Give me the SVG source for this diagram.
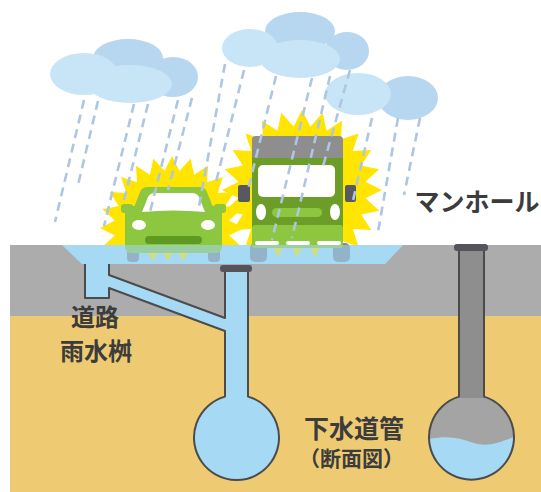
<svg xmlns="http://www.w3.org/2000/svg" width="541" height="492" viewBox="0 0 541 492">
  <defs>
    <style>
      .line { stroke: #4b4b4b; stroke-width: 2; stroke-linejoin: round; }
      .rain { fill: none; stroke: #aec6e2; stroke-width: 2.6; stroke-dasharray: 9 6; }
      .cloud-back { fill: #b6d7ef; }
      .cloud-front { fill: #c8e5f7; }
      .water { fill: #a6d9f3; }
      .green { fill: #8dc63f; }
      .cab { fill: #6c9d28; }
      .white { fill: #ffffff; }
      .wheel { fill: #7d8796; }
      .flash { fill: #ffe500; }
      .label { font-family: "Noto Sans CJK JP", "Noto Sans", sans-serif; font-weight: 700; fill: #3c3c3c; }
    </style>
    <!-- 24-point burst, radius 80 -->
    <polygon id="burst" points="80,0 63.45,8.35 77.27,20.71 59.13,24.49 69.28,40 50.78,38.96 56.57,56.57 38.96,50.78 40,69.28 24.49,59.13 20.71,77.27 8.35,63.45 0,80 -8.35,63.45 -20.71,77.27 -24.49,59.13 -40,69.28 -38.96,50.78 -56.57,56.57 -50.78,38.96 -69.28,40 -59.13,24.49 -77.27,20.71 -63.45,8.35 -80,0 -63.45,-8.35 -77.27,-20.71 -59.13,-24.49 -69.28,-40 -50.78,-38.96 -56.57,-56.57 -38.96,-50.78 -40,-69.28 -24.49,-59.13 -20.71,-77.27 -8.35,-63.45 0,-80 8.35,-63.45 20.71,-77.27 24.49,-59.13 40,-69.28 38.96,-50.78 56.57,-56.57 50.78,-38.96 69.28,-40 59.13,-24.49 77.27,-20.71 63.45,-8.35"/>
    <clipPath id="above-road">
      <rect x="0" y="0" width="541" height="245"/>
    </clipPath>
    <clipPath id="sewer-clip">
      <circle cx="471.5" cy="437.5" r="42.5"/>
    </clipPath>
  </defs>

  <!-- ground layers -->
  <g id="ground">
    <rect x="10" y="245" width="531" height="71" fill="#acacac"/>
    <rect x="10" y="316" width="531" height="176" fill="#eecb72"/>
  </g>

  <!-- storm drain: inlet, lateral and main pipe -->
  <g id="storm-drain">
    <path class="line" fill="#a6d9f3" d="M109 256 L109 275 L225 318 L225 270 L248 270 L248 396.6 A42.5 42.5 0 1 1 225 396.6 L225 331 L109 288 L109 298 L85 298 L85 256 Z"/>
    <rect x="220" y="265" width="32" height="7" rx="3" fill="#54545a"/>
  </g>

  <!-- manhole and sewer pipe -->
  <g id="manhole">
    <circle cx="471.5" cy="437.5" r="42.5" fill="#a4a4a4"/>
    <path class="water" clip-path="url(#sewer-clip)" d="M425 440 C445 435 458 437 474 443 C490 448 502 441 520 435 L520 485 L425 485 Z"/>
    <rect x="459" y="249" width="25" height="149" fill="#8e8e8e"/>
    <path class="line" fill="none" d="M459 249 L459 396.6 A42.5 42.5 0 1 0 484 396.6 L484 249"/>
    <rect x="454" y="244" width="34" height="7" rx="3" fill="#54545a"/>
  </g>

  <!-- standing water on the road -->
  <polygon class="water" points="62,245 403,245 385,264 82,264"/>

  <!-- clouds -->
  <g id="cloud-left">
    <ellipse class="cloud-back" cx="128" cy="58" rx="35" ry="19"/>
    <ellipse class="cloud-back" cx="173" cy="77" rx="25" ry="20"/>
    <ellipse class="cloud-front" cx="84" cy="74" rx="34" ry="21"/>
    <ellipse class="cloud-front" cx="130" cy="84" rx="42" ry="19"/>
  </g>
  <g id="cloud-middle">
    <ellipse class="cloud-back" cx="300" cy="31" rx="35" ry="19"/>
    <ellipse class="cloud-back" cx="347" cy="51" rx="22" ry="19"/>
    <ellipse class="cloud-front" cx="250" cy="48" rx="28" ry="19"/>
    <ellipse class="cloud-front" cx="300" cy="59" rx="40" ry="19"/>
  </g>
  <g id="cloud-right">
    <ellipse class="cloud-back" cx="408" cy="98" rx="30" ry="22"/>
    <ellipse class="cloud-front" cx="358" cy="94" rx="33" ry="21"/>
  </g>

  <!-- flashes behind the vehicles -->
  <g id="flashes" clip-path="url(#above-road)">
    <use href="#burst" class="flash" transform="translate(302 190)"/>
    <use href="#burst" class="flash" transform="translate(172 228) scale(0.9)"/>
  </g>
  <g id="flash-under" class="flash">
    <polygon points="148,253 158,253 153,261"/>
    <polygon points="163,253 173,253 168,261"/>
    <polygon points="178,253 188,253 183,261"/>
    <polygon points="273,247 283,247 278,258"/>
    <polygon points="292,247 302,247 297,258"/>
    <polygon points="310,247 320,247 315,258"/>
  </g>

  <!-- car -->
  <g id="car">
    <rect class="wheel" x="127" y="245" width="12" height="17" rx="4"/>
    <rect class="wheel" x="208" y="245" width="12" height="17" rx="4"/>
    <rect class="green" x="121" y="204" width="12" height="9" rx="3"/>
    <rect class="green" x="214" y="204" width="12" height="9" rx="3"/>
    <path class="green" d="M133 210 L140 192 Q142 187 148 187 L199 187 Q205 187 207 192 L214 210 Z"/>
    <rect class="green" x="125" y="206" width="97" height="47" rx="6"/>
    <path class="white" d="M142 212 L148 197 Q150 193 155 193 L192 193 Q197 193 199 197 L205 212 Q173 209 142 212 Z"/>
    <ellipse class="white" cx="139" cy="225" rx="7" ry="5"/>
    <ellipse class="white" cx="208" cy="225" rx="7" ry="5"/>
    <rect x="145" y="236" width="57" height="8" rx="4" fill="#5e9a22"/>
  </g>

  <!-- truck -->
  <g id="truck">
    <rect class="wheel" x="250" y="243" width="17" height="19" rx="5"/>
    <rect class="wheel" x="333" y="243" width="17" height="19" rx="5"/>
    <rect x="238" y="185" width="12" height="17" rx="2" fill="#565a60"/>
    <rect x="345" y="185" width="11" height="17" rx="2" fill="#565a60"/>
    <rect x="252" y="136" width="91" height="30" rx="4" fill="#8e8e8e"/>
    <rect class="cab" x="252" y="158" width="91" height="70"/>
    <rect class="green" x="252" y="225" width="91" height="23" rx="3"/>
    <rect class="white" x="258" y="165" width="77" height="32" rx="5"/>
    <ellipse class="white" cx="261" cy="212" rx="5" ry="8"/>
    <ellipse class="white" cx="335" cy="212" rx="5" ry="8"/>
    <rect class="green" x="272" y="208" width="50" height="9" rx="4.5"/>
    <rect class="white" x="255" y="241" width="24" height="4" rx="2"/>
    <rect class="white" x="286" y="241" width="24" height="4" rx="2"/>
    <rect class="white" x="317" y="241" width="24" height="4" rx="2"/>
  </g>

  <!-- water film over the wheels -->
  <polygon class="water" opacity="0.55" points="62,245 403,245 385,264 82,264"/>

  <!-- rain -->
  <g id="rain">
    <line class="rain" x1="84" y1="100" x2="55" y2="222"/>
    <line class="rain" x1="98" y1="101" x2="78" y2="185"/>
    <line class="rain" x1="134" y1="104" x2="104" y2="226"/>
    <line class="rain" x1="148" y1="104" x2="124" y2="200"/>
    <line class="rain" x1="178" y1="100" x2="150" y2="212"/>
    <line class="rain" x1="192" y1="98" x2="168" y2="190"/>
    <line class="rain" x1="225" y1="64" x2="198" y2="212"/>
    <line class="rain" x1="244" y1="70" x2="216" y2="182"/>
    <line class="rain" x1="276" y1="76" x2="248" y2="190"/>
    <line class="rain" x1="312" y1="78" x2="272" y2="240"/>
    <line class="rain" x1="330" y1="76" x2="292" y2="238"/>
    <line class="rain" x1="350" y1="70" x2="322" y2="170"/>
    <line class="rain" x1="372" y1="118" x2="352" y2="205"/>
    <line class="rain" x1="398" y1="118" x2="378" y2="232"/>
    <line class="rain" x1="420" y1="118" x2="404" y2="195"/>
  </g>

  <!-- labels -->
  <g id="labels">
    <text class="label" x="95" y="326" font-size="24" text-anchor="middle">道路</text>
    <text class="label" x="96" y="360" font-size="24" text-anchor="middle">雨水桝</text>
    <text class="label" x="477" y="211" font-size="25" text-anchor="middle">マンホール</text>
    <text class="label" x="354" y="438" font-size="25" text-anchor="middle">下水道管</text>
    <text class="label" x="351.5" y="466" font-size="21" text-anchor="middle">（断面図）</text>
  </g>
</svg>
